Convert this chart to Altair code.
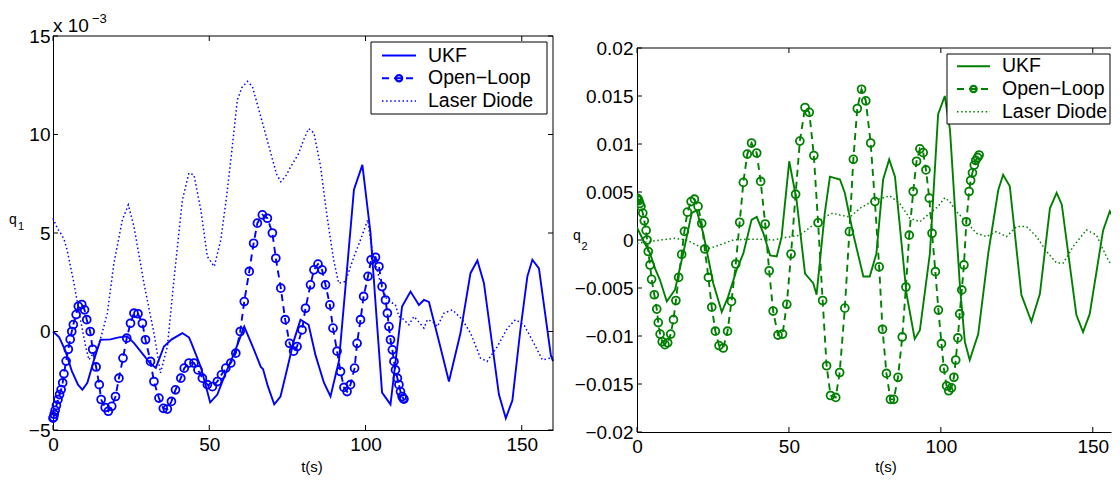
import altair as alt
import pandas as pd

FONT = "Liberation Sans"
BLUE = "#0000ff"
GREEN = "#008000"

# ---------------- data : left panel (q1, values in units of 1e-3) ----------------
q1_ukf_t = [0, 2, 4, 6, 8, 9.4, 11, 13, 15.2, 18.4, 21, 23.8, 26, 29, 31, 32.9, 35.5, 38, 41.4, 43.5, 44.2,
            47.3, 50.3, 52.6, 55, 58, 61.2, 64, 66.5, 67.2, 68.8, 70.8, 72.8, 75, 77, 79.2, 81.8, 84, 86.7,
            88.8, 91.5, 94, 96.3, 99, 101.6, 103.5, 105.3, 108, 111.7, 114.4, 117.1, 118.7, 120.3, 123.5,
            126.7, 130.4, 133.6, 135.8, 137.9, 142.7, 144.9, 147, 149.5, 151.8, 153.4, 155.5, 159.3, 160]
q1_ukf_v = [0, -0.3, -1.0, -2.0, -2.7, -2.96, -2.6, -1.5, -0.42, -0.4, -0.3, -0.25, -0.6, -1.2, -1.6, -1.85,
            -0.76, -0.4, -0.08, -0.3, -0.55, -1.8, -3.6, -3.2, -2.2, -1.1, 0.25, -0.8, -1.8, -1.9, -2.8,
            -3.7, -3.3, -1.85, -0.5, 0.6, 0.34, -1.2, -2.6, -3.3, -1.5, 3.0, 7.2, 8.46, 5.0, 0.8, -3.1,
            -3.7, 1.27, 2.03, 1.35, 1.6, 1.5, -0.5, -2.54, -0.08, 2.96, 3.6, 2.45, -3.2, -4.4, -3.5, 0.0,
            2.8, 3.64, 3.2, -1.2, -1.5]

q1_ol_t = [0, 0.2, 0.4, 0.7, 1.1, 1.6, 2.1, 2.6, 3.1, 3.5, 4.2, 4.9, 5.5, 6.0, 6.5, 7.4, 8.1, 9.2, 10.1,
           10.8, 11.9, 12.7, 13.8, 14.8, 15.4, 16.7, 17.7, 18.8, 20, 21.1, 22.4, 23.6, 24.8, 25.9, 27.2,
           28.6, 29.6, 31.2, 32.3, 33.9, 35.3, 36.6, 37.9, 39.2, 40.9, 42, 43.5, 45.1, 46.4, 47.8, 49.4,
           51, 52.6, 53.9, 55.3, 56.9, 58.5, 59.9, 61.2, 62.8, 64.2, 65.4, 67, 68.6, 70.2, 71.3, 72.9,
           74.3, 75.7, 77, 78.1, 79.7, 80.8, 82.4, 83.5, 84.8, 86.1, 87.2, 88.6, 89.6, 90.9, 92, 93.1,
           94.1, 95.2, 96.5, 97.3, 98.4, 99.4, 100.8, 101.8, 103.2, 104.3, 105.3, 106.4, 107, 107.5, 108,
           108.6, 109.1, 109.6, 110.2, 110.7, 111.2, 111.7, 112.1, 112.3]
q1_ol_v = [-4.4, -4.35, -4.2, -4.0, -3.75, -3.45, -3.2, -2.95, -2.6, -2.15, -1.5, -0.9, -0.4, 0.0, 0.35,
           0.86, 1.28, 1.37, 1.1, 0.6, 0.0, -0.9, -1.8, -2.7, -3.45, -3.86, -4.05, -3.8, -3.3, -2.37,
           -1.35, -0.34, 0.42, 0.93, 0.9, 0.42, -0.42, -1.52, -2.54, -3.38, -3.9, -3.94, -3.55, -2.96,
           -2.37, -1.86, -1.6, -1.6, -1.95, -2.37, -2.7, -2.8, -2.54, -2.2, -1.86, -1.6, -1.1, 0.0, 1.52,
           3.05, 4.48, 5.5, 5.92, 5.75, 5.0, 3.72, 2.2, 0.6, -0.6, -1.0, -0.76, 0.08, 1.18, 2.37, 3.13,
           3.42, 3.13, 2.37, 1.35, 0.17, -1.0, -2.03, -2.84, -3.05, -2.7, -1.86, -0.6, 0.6, 1.78, 2.8,
           3.64, 3.77, 3.3, 2.28, 1.6, 0.93, 0.25, -0.42, -0.93, -1.52, -1.95, -2.37, -2.7, -3.05, -3.3,
           -3.4, -3.43]

q1_ld_t = [0, 1.5, 2.4, 3.5, 4.5, 6.7, 8.8, 10.5, 11.5, 12.5, 14.1, 15.5, 17.4, 19.5, 22.2, 24.1, 25.9,
           27.5, 29.1, 32.3, 34.4, 36.6, 38.7, 41.4, 43.5, 45.1, 47.3, 49.4, 51.6, 53.7, 55.5, 56.9, 59,
           60.5, 62.2, 63.8, 66.5, 69.7, 71.5, 72.9, 74.5, 76.1, 78.5, 80.2, 81.8, 83.5, 85.6, 87.7, 89.8,
           91.4, 93.6, 96.3, 98.4, 100.7, 102.1, 104.8, 106.9, 109.6, 110.7, 111.7, 113.9, 115.5, 117,
           118.7, 119.8, 121.5, 123, 125.1, 127.8, 131, 133.6, 136.8, 138.9, 142.2, 145.4, 148, 150.7,
           153.9, 156.6, 159.3, 160]
q1_ld_v = [5.75, 5.2, 5.0, 4.7, 4.15, 2.45, 0.6, -0.8, -1.44, -1.2, -0.93, -0.2, 0.93, 3.47, 5.67, 6.43,
           5.33, 3.9, 2.45, -0.08, -2.1, -0.76, 2.62, 6.68, 8.04, 7.95, 6.18, 3.8, 3.3, 4.65, 6.8, 8.7,
           11.76, 12.4, 12.7, 12.44, 10.9, 9.05, 8.0, 7.6, 7.9, 8.37, 9.0, 9.73, 10.3, 10.07, 8.4, 5.84,
           3.64, 2.45, 2.54, 3.8, 4.65, 5.67, 4.15, 2.45, 1.6, 1.35, 0.76, 0.68, 0.34, 0.76, 0.5, 0.17,
           0.6, 0.5, 0.25, 0.93, 1.1, 0.6, -0.08, -1.35, -1.52, -0.76, 0.17, 0.6, 0.34, -0.6, -1.44,
           -1.35, -1.3]

# ---------------- data : right panel (q2, values in units of 1e-3) ----------------
q2_ukf_t = [0, 2, 4.3, 6, 7.6, 9.8, 12.5, 15.2, 18, 19.6, 21.8, 25.1, 27.9, 30, 32.8, 35, 37.7, 39.4,
            41.6, 43.8, 46, 47.6, 50.1, 52.5, 55.3, 58, 59.1, 61.8, 63.5, 66.8, 68.4, 71.1, 74.5, 76.6,
            78.8, 81, 83, 84.9, 88.7, 91.4, 93.1, 96.4, 99.1, 101.3, 103, 106.3, 107.9, 109.5, 112.3,
            115.6, 118.9, 120.5, 122.7, 126.5, 129.8, 132.6, 135.9, 138.1, 139.8, 144.6, 146.8, 149,
            153.4, 155.6, 158.4, 160]
q2_ukf_v = [1.3, 0.0, -1.4, -3.0, -4.2, -6.4, -5.2, -1.4, 2.8, 3.1, 0.7, -4.5, -7.5, -5.9, -3.1, -1.4,
            2.1, 2.4, 0.7, -1.6, -1.7, 0.35, 8.2, 4.2, -3.5, -4.5, -5.7, 2.8, 6.6, 6.3, 4.9, 0.7, -3.8,
            -3.8, -1.4, 6.3, 8.4, 6.6, -5.6, -10.3, -9.4, -1.4, 13.1, 15.0, 11.5, -4.9, -10.6, -12.5,
            -9.8, -1.4, 5.2, 6.8, 5.6, -5.7, -8.5, -5.6, 3.3, 4.9, 3.7, -7.8, -9.6, -7.7, 1.0, 3.0, 1.4,
            0.5]

q2_ol_t = [0, 0.3, 0.6, 0.9, 1.3, 1.9, 2.4, 3.0, 3.3, 3.7, 4.3, 4.8, 5.7, 6.5, 7.0, 7.6, 8.3, 9.2, 10.1,
           11.1, 12, 12.8, 13.7, 14.7, 15.6, 16.6, 17.8, 18.9, 20.1, 21.3, 22.3, 23.5, 24.6, 25.8, 27,
           28.4, 29.8, 31.1, 32.5, 33.8, 35, 36.3, 37.7, 39.4, 40.7, 42.2, 43.5, 44.8, 46.4, 47.9, 49.3,
           50.7, 52.2, 53.6, 55.3, 56.7, 58.2, 59.6, 61.1, 62.4, 63.7, 65.4, 66.7, 68.4, 69.9, 71.2,
           72.5, 73.9, 75.3, 76.9, 78.3, 79.7, 80.8, 82.1, 83.4, 84.5, 85.9, 87.3, 88.5, 89.6, 90.9, 92,
           93.1, 94.2, 95.1, 96.2, 97.1, 98.2, 99.2, 100.2, 101, 101.9, 102.6, 103.5, 104.3, 104.9, 105.6,
           106.2, 106.9, 107.6, 108.4, 109.3, 109.8, 110.4, 111, 111.5, 112.1, 112.6]
q2_ol_v = [4.36, 4.3, 4.1, 3.8, 3.5, 2.8, 2.0, 1.0, 0.0, -1.2, -2.6, -4.1, -5.7, -7.2, -8.6, -9.8, -10.6,
           -10.9, -10.7, -9.8, -8.3, -6.3, -3.9, -1.5, 0.9, 2.9, 4.0, 4.25, 3.5, 1.74, -0.94, -3.9, -7.0,
           -9.5, -11.0, -11.25, -9.5, -6.4, -2.5, 1.85, 6.0, 8.95, 10.1, 9.06, 6.1, 1.67, -3.2, -7.4,
           -9.9, -9.8, -6.7, -1.46, 4.77, 10.3, 13.8, 13.3, 8.8, 1.8, -6.3, -13.1, -16.2, -16.4, -13.8,
           -7.1, 0.87, 8.4, 13.7, 15.7, 14.5, 10.1, 4.0, -2.8, -9.3, -13.9, -16.6, -16.6, -14.3, -10.1,
           -4.9, 0.5, 5.05, 8.2, 9.5, 9.1, 7.3, 4.36, 0.7, -3.3, -7.3, -10.8, -13.4, -15.2, -15.7, -15.4,
           -14.3, -12.5, -10.2, -7.7, -5.2, -2.6, 1.9, 5.05, 6.2, 7.0, 7.8, 8.3, 8.6, 8.85]

q2_ld_t = [0, 3.2, 7.6, 12.5, 16.3, 20.7, 24, 27.3, 31.7, 36, 40.5, 44.8, 49.2, 53.6, 58, 62.4, 64.5,
           66.8, 70.1, 73.4, 77.8, 83.2, 86.5, 89.8, 93.1, 96.4, 99.1, 101.3, 102.9, 105.6, 108.4, 111.7,
           115, 118.3, 121.6, 124.9, 128.2, 131.5, 134.8, 138.1, 140.3, 143.5, 147.9, 151.2, 154.5,
           157.8, 160]
q2_ld_v = [-0.35, -0.2, 0.0, 0.17, 0.0, -0.7, -0.87, -0.5, 0.0, 0.07, 0.07, 0.0, 0.28, 0.5, 1.57, 2.5,
           2.8, 2.6, 2.4, 3.3, 4.1, 4.6, 3.8, 2.26, 1.9, 2.8, 3.5, 4.4, 4.0, 2.8, 1.9, 0.7, 0.35, 0.87,
           0.35, 1.4, 1.4, 0.35, -1.2, -2.4, -2.4, -0.7, 1.05, 0.52, -1.74, -3.5, -3.9]

# ---------------- ticks & labels ----------------
x_ticks = [0, 50, 100, 150]
q1_ticks = [-5, 0, 5, 10, 15]
q2_ticks = [-0.02, -0.015, -0.01, -0.005, 0, 0.005, 0.01, 0.015, 0.02]
legend_names = ["UKF", "Open\u2212Loop", "Laser Diode"]


def frame(t, v, k=1.0):
    return pd.DataFrame({"t": t, "v": [x * k for x in v]})


ONE = pd.DataFrame({"a": [0]})


def panel(color, ukf, ol, ld, xdom, ydom, yrange, W, H, top, yticks, yfmt, ylabpad,
          leg, qlab, right_border, clip):
    xs = alt.Scale(domain=xdom, nice=False, zero=False)
    ys = alt.Scale(domain=ydom, range=yrange, nice=False, zero=False)
    X = alt.X("t:Q", scale=xs, axis=alt.Axis(
        values=x_ticks, format="d", labelFont=FONT, labelFontSize=19, labelColor="black",
        labelPadding=5, ticks=False, domain=True, domainColor="black", domainWidth=1,
        grid=False, title=None, labelFlush=False, labelOverlap=False))
    Y = alt.Y("v:Q", scale=ys, axis=alt.Axis(
        values=yticks, format=yfmt, labelFont=FONT, labelFontSize=19, labelColor="black",
        labelPadding=ylabpad, ticks=False, domain=True, domainColor="black", domainWidth=1,
        grid=False, title=None, labelFlush=False, labelOverlap=False))

    layers = []
    layers.append(alt.Chart(ld).mark_line(color=color, strokeWidth=1.5, strokeDash=[1.5, 2.6],
                                          clip=clip).encode(X, Y))
    layers.append(alt.Chart(ukf).mark_line(color=color, strokeWidth=1.9, clip=clip).encode(X, Y))
    layers.append(alt.Chart(ol).mark_line(color=color, strokeWidth=1.9, strokeDash=[7, 5],
                                          clip=clip).encode(X, Y))
    layers.append(alt.Chart(ol).mark_point(shape="circle", filled=False, color=color, size=62,
                                           strokeWidth=1.8, opacity=1, clip=clip).encode(X, Y))

    # box & inward ticks
    xt = pd.DataFrame({"t": x_ticks})
    yt = pd.DataFrame({"v": yticks})
    k = "black"
    layers.append(alt.Chart(ONE).mark_rule(color=k, strokeWidth=1).encode(
        x=alt.value(0), x2=alt.value(W), y=alt.value(top)))
    layers.append(alt.Chart(xt).mark_rule(color=k, strokeWidth=1).encode(
        X, y=alt.value(H), y2=alt.value(H - 5)))
    layers.append(alt.Chart(xt).mark_rule(color=k, strokeWidth=1).encode(
        X, y=alt.value(top), y2=alt.value(top + 5)))
    layers.append(alt.Chart(yt).mark_rule(color=k, strokeWidth=1).encode(
        Y, x=alt.value(0), x2=alt.value(5)))
    if right_border:
        layers.append(alt.Chart(ONE).mark_rule(color=k, strokeWidth=1).encode(
            x=alt.value(W), y=alt.value(top), y2=alt.value(H)))
        layers.append(alt.Chart(yt).mark_rule(color=k, strokeWidth=1).encode(
            Y, x=alt.value(W), x2=alt.value(W - 5)))

    # legend
    bx0, bx1, by0, by1, lx0, lx1, tx, rows = leg
    layers.append(alt.Chart(ONE).mark_rect(fill="white", stroke="black", strokeWidth=1).encode(
        x=alt.value(bx0), x2=alt.value(bx1), y=alt.value(by0), y2=alt.value(by1)))
    layers.append(alt.Chart(ONE).mark_rule(color=color, strokeWidth=1.9).encode(
        x=alt.value(lx0), x2=alt.value(lx1), y=alt.value(rows[0])))
    layers.append(alt.Chart(ONE).mark_rule(color=color, strokeWidth=1.9, strokeDash=[7, 5]).encode(
        x=alt.value(lx0), x2=alt.value(lx1), y=alt.value(rows[1])))
    layers.append(alt.Chart(ONE).mark_point(shape="circle", filled=False, color=color, size=40,
                                            strokeWidth=2.2, opacity=1).encode(
        x=alt.value((lx0 + lx1) / 2), y=alt.value(rows[1])))
    layers.append(alt.Chart(ONE).mark_rule(color=color, strokeWidth=1.5, strokeDash=[1.5, 2.6]).encode(
        x=alt.value(lx0), x2=alt.value(lx1), y=alt.value(rows[2])))
    for name, ry in zip(legend_names, rows):
        layers.append(alt.Chart(ONE).mark_text(align="left", baseline="middle", font=FONT,
                                               fontSize=19.5, color="black").encode(
            x=alt.value(tx), y=alt.value(ry), text=alt.value(name)))

    # labels
    (qx, qy, qs, sx, sy, txc, tyc) = qlab
    layers.append(alt.Chart(ONE).mark_text(align="left", baseline="alphabetic", font=FONT,
                                           fontSize=14, color="black").encode(
        x=alt.value(qx), y=alt.value(qy), text=alt.value("q")))
    layers.append(alt.Chart(ONE).mark_text(align="left", baseline="alphabetic", font=FONT,
                                           fontSize=11, color="black").encode(
        x=alt.value(sx), y=alt.value(sy), text=alt.value(qs)))
    layers.append(alt.Chart(ONE).mark_text(align="center", baseline="alphabetic", font=FONT,
                                           fontSize=15, color="black").encode(
        x=alt.value(txc), y=alt.value(tyc), text=alt.value("t(s)")))
    return layers


left_layers = panel(
    BLUE, frame(q1_ukf_t, q1_ukf_v), frame(q1_ol_t, q1_ol_v), frame(q1_ld_t, q1_ld_v),
    [0, 160], [-5, 15], [394, 0], 500, 394, 0, q1_ticks, "d", 3,
    (318, 494, 6, 78, 329, 363, 375, [19.5, 42.2, 65]),
    (-44, 188.3, "1", -35, 194, 259, 436), True, False)
left_layers.append(alt.Chart(ONE).mark_text(align="left", baseline="alphabetic", font=FONT,
                                            fontSize=19, color="black").encode(
    x=alt.value(0), y=alt.value(-4.5), text=alt.value("x 10")))
left_layers.append(alt.Chart(ONE).mark_text(align="left", baseline="alphabetic", font=FONT,
                                            fontSize=13, color="black").encode(
    x=alt.value(39), y=alt.value(-13), text=alt.value("\u22123")))
left = alt.layer(*left_layers).properties(width=500, height=394)

right_layers = panel(
    GREEN, frame(q2_ukf_t, q2_ukf_v, 1e-3), frame(q2_ol_t, q2_ol_v, 1e-3),
    frame(q2_ld_t, q2_ld_v, 1e-3),
    [0, 156], [-0.02, 0.02], [396, 12], 474, 396, 12, q2_ticks, ".3~f", 4,
    (310, 473, 18, 88, 320, 353, 365, [30.3, 53, 75.7]),
    (-64, 204.3, "2", -55.5, 214, 249, 436), False, True)
right = alt.layer(*right_layers).properties(width=474, height=396)

chart = alt.hconcat(left, right, spacing=84, bounds="flush").properties(
    padding={"left": 1, "top": 5, "right": 0, "bottom": 0}
).configure_view(stroke=None)

chart.save("out.html", embed_options={"renderer": "svg", "actions": False})
